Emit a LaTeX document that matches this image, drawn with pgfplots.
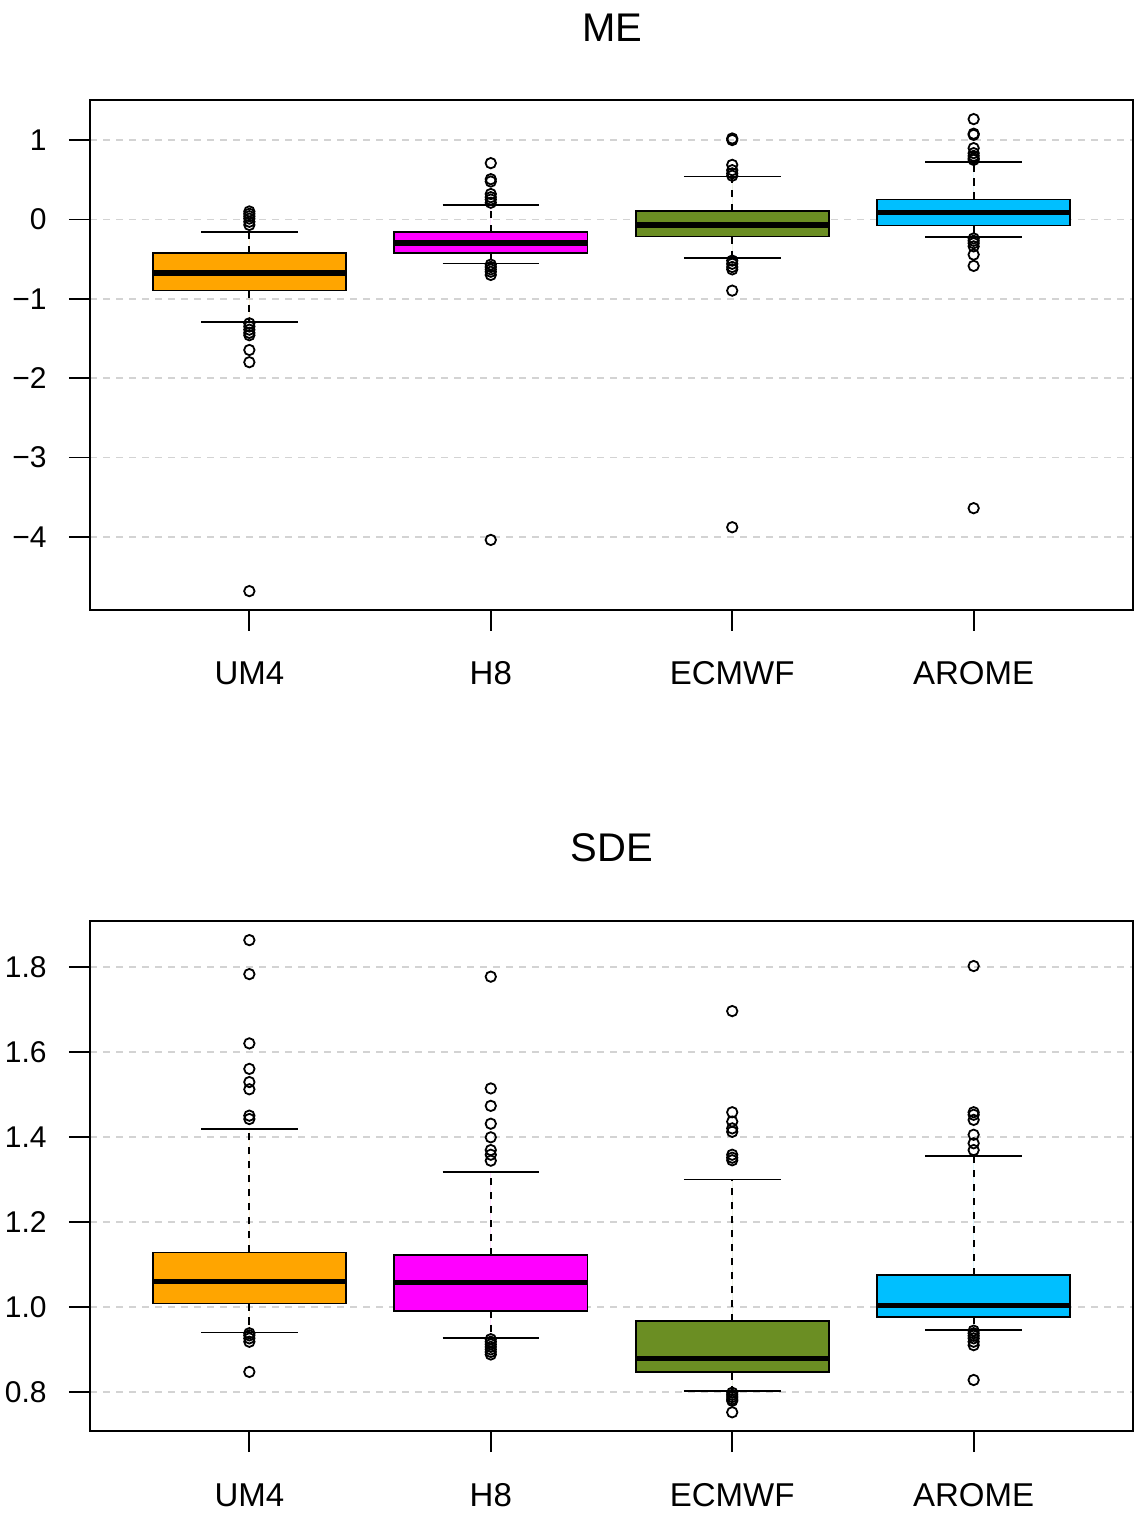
\documentclass[border=0pt]{standalone}
\usepackage{fontspec}
\setmainfont{Liberation Sans}
\usepackage{pgfplots}
\pgfplotsset{compat=1.18}
\usepgfplotslibrary{statistics}
\definecolor{cUM}{HTML}{FFA500}
\definecolor{cH}{HTML}{FF00FF}
\definecolor{cEC}{HTML}{6B8E23}
\definecolor{cAR}{HTML}{00BFFF}
\definecolor{gridgray}{HTML}{D3D3D3}
\pgfplotsset{
  boxplot/draw/whisker/.code 2 args={%
    \draw[dash pattern=on 3.6pt off 3.4pt, line width=0.85pt]
      (boxplot cs:#1) -- (boxplot cs:#2);
  },
  rbox/.style={
    scale only axis, width=521.5pt, height=255pt, anchor=south west,
    xmin=0.34, xmax=4.66,
    xtick={1,2,3,4}, xticklabels={UM4,H8,ECMWF,AROME},
    tick align=outside, xtick pos=bottom, ytick pos=left,
    major tick length=10.5pt,
    tick style={black, line width=0.85pt},
    axis line style={line width=0.85pt},
    ymajorgrids,
    major grid style={gridgray, dash pattern=on 3.5pt off 3pt, line width=0.85pt},
    xticklabel style={font=\fontsize{16.5}{18}\selectfont, anchor=base, yshift=-27pt, inner sep=0pt},
    yticklabel style={font=\fontsize{15}{18}\selectfont, anchor=east, xshift=-11pt, inner sep=0pt},
    boxplot/draw direction=y,
    boxplot/box extend=0.8,
    boxplot/every median/.style={line width=2.7pt},
    boxplot/every box/.style={line width=0.85pt},
    mark=o, mark size=2.6pt,
    mark options={solid, line width=0.9pt, draw=black},
  },
  caps/.style={black, solid, line width=0.85pt, no markers, unbounded coords=jump},
}
\begin{document}
\begin{tikzpicture}
\useasboundingbox (0,0) rectangle (567pt,756.5pt);
\node[font=\fontsize{20}{22}\selectfont] at (306pt,742.5pt) {ME};
\node[font=\fontsize{20}{22}\selectfont] at (306pt,332.5pt) {SDE};
% ---------- ME ----------
\begin{axis}[rbox, at={(45pt,451.5pt)},
  ymin=-4.923, ymax=1.505,
  ytick={-4,-3,-2,-1,0,1},
  yticklabels={−4,−3,−2,−1,0,1}]
\addplot[draw=black, fill=cUM, boxplot prepared={draw position=1,
  lower whisker=-1.289, lower quartile=-0.898, median=-0.678,
  upper quartile=-0.426, upper whisker=-0.158}]
  coordinates {(0,0.10) (0,0.07) (0,0.04) (0,0.01) (0,-0.03) (0,-0.07)
  (0,-1.31) (0,-1.35) (0,-1.39) (0,-1.43) (0,-1.46) (0,-1.646) (0,-1.80) (0,-4.685)};
\addplot[draw=black, fill=cH, boxplot prepared={draw position=2,
  lower whisker=-0.557, lower quartile=-0.426, median=-0.300,
  upper quartile=-0.161, upper whisker=0.179}]
  coordinates {(0,0.709) (0,0.507) (0,0.477) (0,0.32) (0,0.28) (0,0.25) (0,0.21)
  (0,-0.57) (0,-0.60) (0,-0.63) (0,-0.66) (0,-0.70) (0,-4.04)};
\addplot[draw=black, fill=cEC, boxplot prepared={draw position=3,
  lower whisker=-0.486, lower quartile=-0.217, median=-0.069,
  upper quartile=0.107, upper whisker=0.540}]
  coordinates {(0,1.02) (0,1.00) (0,0.687) (0,0.62) (0,0.58) (0,0.55)
  (0,-0.52) (0,-0.56) (0,-0.60) (0,-0.63) (0,-0.898) (0,-3.88)};
\addplot[draw=black, fill=cAR, boxplot prepared={draw position=4,
  lower whisker=-0.221, lower quartile=-0.078, median=0.086,
  upper quartile=0.250, upper whisker=0.725}]
  coordinates {(0,1.264) (0,1.08) (0,1.065) (0,0.898) (0,0.835) (0,0.80) (0,0.77) (0,0.75)
  (0,-0.24) (0,-0.27) (0,-0.30) (0,-0.34) (0,-0.444) (0,-0.586) (0,-3.64)};
% whisker caps
\addplot[caps] coordinates {
  (0.8,-0.158) (1.2,-0.158) (nan,nan) (0.8,-1.289) (1.2,-1.289) (nan,nan)
  (1.8,0.179) (2.2,0.179) (nan,nan) (1.8,-0.557) (2.2,-0.557) (nan,nan)
  (2.8,0.540) (3.2,0.540) (nan,nan) (2.8,-0.486) (3.2,-0.486) (nan,nan)
  (3.8,0.725) (4.2,0.725) (nan,nan) (3.8,-0.221) (4.2,-0.221)};
\end{axis}
% ---------- SDE ----------
\begin{axis}[rbox, at={(45pt,41pt)},
  ymin=0.708, ymax=1.908,
  ytick={0.8,1.0,1.2,1.4,1.6,1.8},
  yticklabels={0.8,1.0,1.2,1.4,1.6,1.8}]
\addplot[draw=black, fill=cUM, boxplot prepared={draw position=1,
  lower whisker=0.940, lower quartile=1.008, median=1.060,
  upper quartile=1.128, upper whisker=1.419}]
  coordinates {(0,1.863) (0,1.783) (0,1.620) (0,1.560) (0,1.529) (0,1.512) (0,1.450) (0,1.442)
  (0,0.938) (0,0.933) (0,0.926) (0,0.918) (0,0.847)};
\addplot[draw=black, fill=cH, boxplot prepared={draw position=2,
  lower whisker=0.927, lower quartile=0.991, median=1.058,
  upper quartile=1.122, upper whisker=1.318}]
  coordinates {(0,1.777) (0,1.514) (0,1.473) (0,1.431) (0,1.399) (0,1.369) (0,1.358) (0,1.344)
  (0,0.924) (0,0.918) (0,0.912) (0,0.906) (0,0.900) (0,0.894) (0,0.888)};
\addplot[draw=black, fill=cEC, boxplot prepared={draw position=3,
  lower whisker=0.802, lower quartile=0.846, median=0.879,
  upper quartile=0.966, upper whisker=1.300}]
  coordinates {(0,1.696) (0,1.458) (0,1.436) (0,1.420) (0,1.412) (0,1.358) (0,1.351) (0,1.345)
  (0,0.798) (0,0.793) (0,0.788) (0,0.783) (0,0.779) (0,0.752)};
\addplot[draw=black, fill=cAR, boxplot prepared={draw position=4,
  lower whisker=0.946, lower quartile=0.976, median=1.003,
  upper quartile=1.075, upper whisker=1.355}]
  coordinates {(0,1.802) (0,1.458) (0,1.452) (0,1.440) (0,1.405) (0,1.385) (0,1.369)
  (0,0.944) (0,0.938) (0,0.932) (0,0.926) (0,0.918) (0,0.910) (0,0.828)};
% whisker caps
\addplot[caps] coordinates {
  (0.8,1.419) (1.2,1.419) (nan,nan) (0.8,0.940) (1.2,0.940) (nan,nan)
  (1.8,1.318) (2.2,1.318) (nan,nan) (1.8,0.927) (2.2,0.927) (nan,nan)
  (2.8,1.300) (3.2,1.300) (nan,nan) (2.8,0.802) (3.2,0.802) (nan,nan)
  (3.8,1.355) (4.2,1.355) (nan,nan) (3.8,0.946) (4.2,0.946)};
\end{axis}
\end{tikzpicture}
\end{document}
